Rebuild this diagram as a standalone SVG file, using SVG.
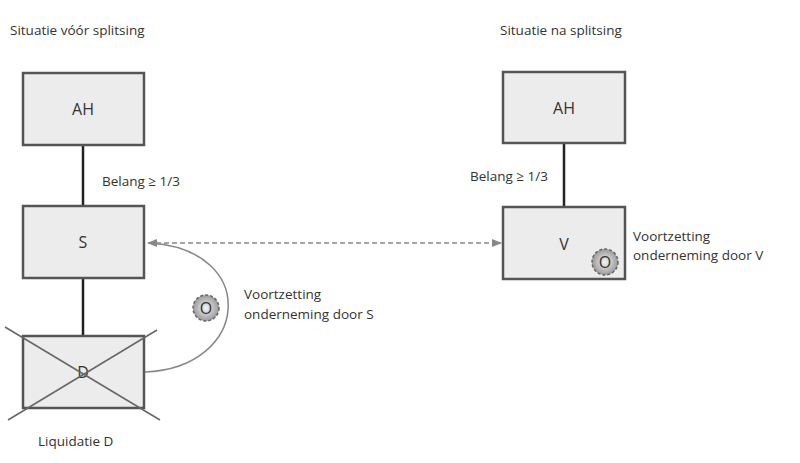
<svg xmlns="http://www.w3.org/2000/svg" width="800" height="463" viewBox="0 0 800 463">
<style>
text{font-family:"Open Sans","Liberation Sans",sans-serif;fill:#333;font-size:13.5px}
.box{fill:#ececec;stroke:#555;stroke-width:2.5}
.lbl{font-size:16px;text-anchor:middle}
.ln{stroke:#222;stroke-width:2.5}
.o{stroke:#666;stroke-width:1.5;stroke-dasharray:3 2;fill:url(#g)}
.ot{font-size:16px;text-anchor:middle}
</style>
<defs>
<marker id="ah" viewBox="0 0 10 10" refX="9" refY="5" markerWidth="7" markerHeight="7" orient="auto-start-reverse"><path d="M0,1 L10,5 L0,9 z" fill="#888"/></marker>
<radialGradient id="g"><stop offset="0" stop-color="#f4f4f4"/><stop offset="1" stop-color="#999"/></radialGradient>
</defs>
<rect width="800" height="463" fill="#fff"/>
<text x="10" y="35">Situatie vóór splitsing</text>
<text x="500" y="35">Situatie na splitsing</text>
<g id="connectors">
<line class="ln" x1="83" y1="145" x2="83" y2="206"/>
<line class="ln" x1="83" y1="278" x2="83" y2="336"/>
<line class="ln" x1="564" y1="143" x2="564" y2="207"/>
<line x1="148" y1="243" x2="501" y2="243" stroke="#888" stroke-width="1.5" stroke-dasharray="5 3" marker-start="url(#ah)" marker-end="url(#ah)"/>
<path d="M145,372 C250,368 260,250 150,243" fill="none" stroke="#888" stroke-width="1.5"/>
</g>
<g id="AH1"><rect class="box" x="23" y="73" width="121" height="72"/><text class="lbl" x="83" y="115">AH</text></g>
<g id="S"><rect class="box" x="23" y="206" width="121" height="72"/><text class="lbl" x="83" y="248">S</text></g>
<g id="D"><rect class="box" x="23" y="336" width="121" height="72"/><text class="lbl" x="83" y="378">D</text>
<line x1="5" y1="327" x2="160" y2="420" stroke="#666" stroke-width="1.5"/><line x1="157" y1="330" x2="8" y2="420" stroke="#666" stroke-width="1.5"/></g>
<g id="AH2"><rect class="box" x="503" y="72" width="122" height="71"/><text class="lbl" x="564" y="114">AH</text></g>
<g id="V"><rect class="box" x="503" y="207" width="122" height="72"/><text class="lbl" x="564" y="250">V</text></g>
<g id="O1"><circle class="o" cx="206" cy="308" r="13"/><text class="ot" x="206" y="314">O</text></g>
<g id="O2"><circle class="o" cx="605" cy="262" r="13"/><text class="ot" x="605" y="268">O</text></g>
<text x="102" y="186">Belang ≥ 1/3</text>
<text x="470" y="181">Belang ≥ 1/3</text>
<text x="244" y="299">Voortzetting</text>
<text x="244" y="319">onderneming door S</text>
<text x="633" y="241">Voortzetting</text>
<text x="633" y="260">onderneming door V</text>
<text x="38" y="446">Liquidatie D</text>
</svg>
